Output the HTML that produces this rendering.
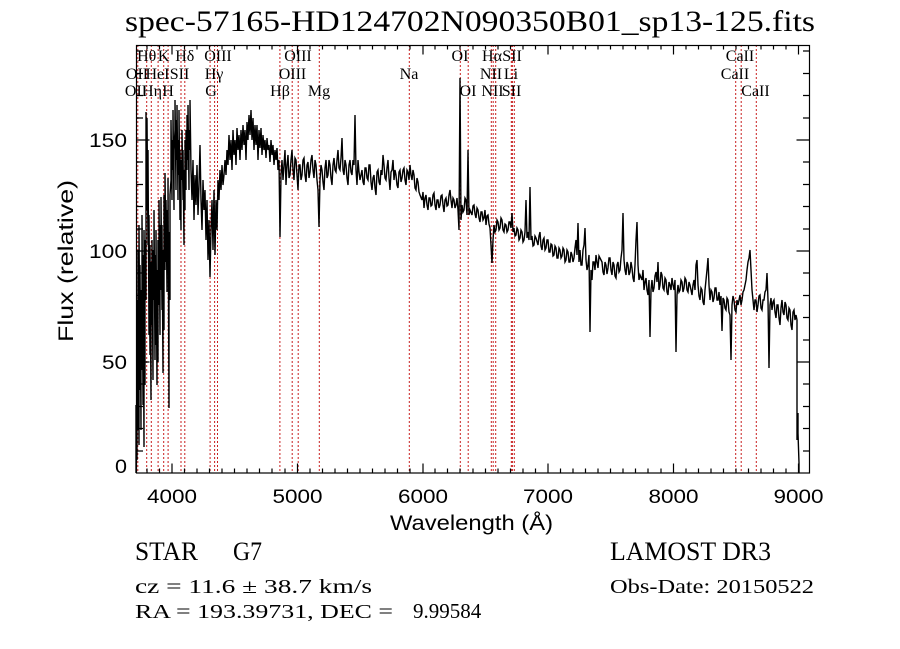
<!DOCTYPE html>
<html>
<head>
<meta charset="utf-8">
<style>
html,body{margin:0;padding:0;background:#fff;}
svg{display:block;}
.serif{font-family:"Liberation Serif",serif;}
.sans{font-family:"Liberation Sans",sans-serif;}
</style>
</head>
<body>
<svg width="900" height="649" viewBox="0 0 900 649" xmlns="http://www.w3.org/2000/svg">
<rect x="0" y="0" width="900" height="649" fill="#fff"/>

<!-- Title -->
<text class="serif" x="125" y="31" font-size="30" textLength="690" lengthAdjust="spacingAndGlyphs" fill="#000">spec-57165-HD124702N090350B01_sp13-125.fits</text>

<!-- Red dotted line markers -->
<g stroke="#c81e1e" stroke-width="1" stroke-dasharray="2,2" fill="none">
<path d="M137.8,45V473 M146.7,45V473 M151.3,45V473 M158.1,45V473 M163.7,45V473 M168.1,45V473 M181,45V473 M184.8,45V473 M210.1,45V473 M214.6,45V473 M217.5,45V473 M279.9,45V473 M292.2,45V473 M298.2,45V473 M319.3,45V473 M409.3,45V473 M460.3,45V473 M468.2,45V473 M491.3,45V473 M493.2,45V473 M495.7,45V473 M511.3,45V473 M512.4,45V473 M514.3,45V473 M735.7,45V473 M741.2,45V473 M756.3,45V473"/>
</g>

<!-- Line labels -->
<g class="serif" font-size="16" fill="#000" text-anchor="middle">
<text x="146.7" y="61">Hθ</text>
<text x="163.7" y="61">K</text>
<text x="184.8" y="61">Hδ</text>
<text x="218" y="61">OIII</text>
<text x="298" y="61">OIII</text>
<text x="460" y="61">OI</text>
<text x="492" y="61">Hα</text>
<text x="512" y="61">SII</text>
<text x="740" y="61">CaII</text>

<text x="137" y="79">OII</text>
<text x="157.5" y="79">HeI</text>
<text x="179.5" y="79">SII</text>
<text x="214" y="79">Hγ</text>
<text x="292.5" y="79">OIII</text>
<text x="409" y="79">Na</text>
<text x="491" y="79">NII</text>
<text x="511" y="79">Li</text>
<text x="735" y="79">CaII</text>

<text x="136" y="96">OII</text>
<text x="152" y="96">Hη</text>
<text x="168" y="96">H</text>
<text x="211" y="96">G</text>
<text x="280" y="96">Hβ</text>
<text x="319" y="96">Mg</text>
<text x="468" y="96">OI</text>
<text x="492.5" y="96">NII</text>
<text x="511.5" y="96">SII</text>
<text x="755.5" y="96">CaII</text>
</g>

<!-- Spectrum -->
<polyline fill="none" stroke="#000" stroke-width="1.4" stroke-linejoin="miter" points="
136,473 136,405 137,460 137,300 138,430 138,250 139,445 139,225 140,390 140,265 141,430 141,290 142,370 142,215 143,405 143,255 144,447 144,230 145,385 145,240 146,300 146,112 147,210 147,118 148,245 148,150
149,335 149,215 150,355 150,245 151,400 151,262 152,325 152,240 153,380 153,250 154,300 154,210 155,360 155,255 156,345 156,230 157,385 157,270 158,362 158,240 159,305 159,200 160,335 160,225 161,290 161,197 162,310 162,225 163,373 163,250 164,330 164,195 165,270 165,173 166,262 166,200 167,292 167,210 168,255 168,178 169,408 169,232 170,300 170,195
171,180 171,120 172,200 172,140 173,170 173,110 174,210 174,150 175,130 175,100 176,190 176,120 177,160 177,105 178,200 178,140 179,175 179,110 180,220 180,150 181,230 181,160 182,180 182,130 183,200 183,150 184,245 184,170 185,210 185,140 186,190 186,130 187,170 187,115 188,160 188,105 189,190 189,130 190,150 190,100
191,170 192,200 193,160 194,220 195,175 196,205 197,165 198,215 199,185 200,145 201,200 202,230 203,180 204,210 205,190 206,240 207,200 208,260 209,220 210,277 211,230 212,200 213,250 214,190 215,255 216,200 217,230 218,180 219,200 220,170 221,190 222,165 223,185 224,175 225,160 226,175
227,150 228,165 229,135 230,160 231,140 232,170 233,130 234,155 235,140 236,165 237,128 238,150 239,135 240,160 241,130 242,150 243,125 244,145 245,130 246,160 247,122 248,140 249,115 250,135 251,110 252,140 253,118 254,150 255,125 256,145 257,125 258,160 259,130 260,148 261,128 262,155 263,135 264,150 265,140 266,158 267,138 268,150 269,145 270,162 271,140 272,155 273,145 274,165 275,150 276,160 277,148 278,170 279,160 280,237 281,175 282,160 283,180
284,165 285,150 286,185 287,165 288,155 289,178 290,175 291,160 292,150 293,170 294,180 295,158 296,160 297,175 298,190 299,165 300,165 301,180 302,175 303,160 304,158 305,175 306,182 307,165 308,162 309,178 310,172 311,160 312,155 313,170 314,178 315,160 316,165 317,180 318,190 319,227 320,180 321,165 322,170 323,182 324,190 325,168 326,160 327,178 328,175 329,160 330,165 331,178 332,185 333,165 334,158 335,170 336,172 337,160 338,150 339,168 340,170 341,158 342,138 343,170 344,175 345,160 346,165 347,178 348,185 349,165 350,160 351,172 352,175 353,160 354,165 355,115 356,170 357,185 358,160 359,172 360,180
362,170 363,182 364,185 365,168 366,168 367,178 368,180 369,165 370,165 371,182 372,190 373,178 374,175 375,188 376,195 377,172 378,170 379,182 380,185 381,170 382,175 383,155 384,165 385,178 386,180 387,168 388,160 389,178 390,190 391,172 392,170 393,160 394,180 395,170 396,175 397,185 398,188 399,172 400,170 401,182 402,178 403,170 404,168 405,180 406,185 407,170 408,172 409,180 410,165 411,175 412,180 413,170 414,175 415,188 416,190 417,178 418,182 419,192 420,195
422,200 423,192 424,208 425,198 426,195 427,205 428,210 429,198 430,198 431,206 432,205 433,195 434,193 435,205 436,210 437,200 438,200 439,208 440,205 441,196 442,195 443,205 444,212 445,200 446,198 447,206 448,205 449,195 450,190 451,200 452,208 453,198 454,200 455,208 456,205 457,198 458,210 459,230 460,78 461,220 462,205 463,212 464,210 465,198 466,200 467,215 468,150 469,215 470,210
472,215 473,206 474,205 475,214 476,218 477,208 478,210 479,218 480,222 481,212 482,212 483,220 484,218 485,210 486,225 487,216 488,215 489,224 490,228 491,245 492,263 493,240 494,225 495,232 496,230 497,220 498,222 499,230 500,228 501,218 502,220 503,230 504,232 505,224 506,225 507,232 508,230 509,222 510,222 511,228 512,213 513,232 514,228 515,236 516,235 517,228 518,230 519,240 520,238 521,230 522,232 523,242 524,240 525,232 526,200 527,238 528,232 529,240 530,187 531,240 532,236 533,246 534,245 535,236 536,238
538,245 539,236 540,232 541,246 542,250 543,240 544,238 545,250 546,248 547,240 548,240 549,252 550,252 551,244 552,245 553,256 554,255 555,246 556,248 557,258 558,258 559,248 560,250 561,258 562,256 563,248 564,250 565,262 566,260 567,250 568,252 569,262 570,262 571,252 572,255 573,262 574,258 575,248 576,240 577,255 578,223 579,262 580,250 581,265 582,265 583,250 584,245 585,228 586,260 587,270 588,265 589,255 590,332 591,270 592,280 593,262 594,262 595,270 596,255 597,262 598,268 599,256 600,258
602,262 603,272 604,275 605,262 606,265 607,274 608,268 609,258 610,258 611,270 612,275 613,262 614,265 615,276 616,278 617,265 618,262 619,272 620,270 621,258 622,250 623,213 624,260 625,270 626,275 627,262 628,265 629,275 630,272 631,262 632,268 633,278 634,282 635,265 636,240 637,222 638,265 639,280 640,275
642,280 643,270 644,290 645,282 646,278 647,290 648,295 649,280 650,337 651,290 652,280 653,292 654,288 655,276 656,272 657,282 658,262 659,290 660,285 661,272 662,275 663,288 664,290 665,278 666,280 667,292 668,295 669,282 670,285 671,290 672,278 673,285 674,290 675,280 676,352 677,295 678,285 679,292 680,290 681,280 682,282 683,292 684,288 685,278 686,280 687,290 688,292 689,282 690,285
692,295 693,285 694,280 695,290 696,265 697,260 698,285 699,296 700,300 701,288 702,290 703,302 704,305 705,290 706,280 707,270 708,258 709,285 710,300 711,290 712,292 713,302 714,298 715,288 716,288 717,300 718,300 719,292 720,305 721,296 722,331 723,298 724,300 725,308 726,310 727,298 728,300 729,312 730,315 731,360 732,305 733,296 734,300 735,310 736,312 737,300 738,305
740,295 741,305 742,300 743,292 744,290 745,285 746,280 747,270 748,262 749,258 750,250 751,270 752,290 753,300 754,310 755,300 756,300 757,312 758,305 759,296 760,295 761,308 762,310 763,300 764,300 765,292 766,290 767,273 768,300 769,368 770,305 771,298 772,310 773,302 774,300 775,312 776,318 777,305 778,305 779,318 780,325 781,308 782,300 783,312 784,315 785,302 786,305 787,318 788,320 789,308 790,310 791,325 792,330 793,312 794,310 795,320 796,315 797,320 797,440 798,413 798,433 799,463 799,473"/>

<!-- Axes box -->
<rect x="136.5" y="45.5" width="673" height="427.5" fill="none" stroke="#000" stroke-width="1.2"/>

<!-- Ticks -->
<g stroke="#000" stroke-width="1.2" fill="none">
<path d="M147,473v-4.5 M159.5,473v-4.5 M184.5,473v-4.5 M197,473v-4.5 M209.5,473v-4.5 M222,473v-4.5 M234.5,473v-4.5 M247,473v-4.5 M259.5,473v-4.5 M272,473v-4.5 M285,473v-4.5 M310,473v-4.5 M322.5,473v-4.5 M335,473v-4.5 M347.5,473v-4.5 M360,473v-4.5 M372.5,473v-4.5 M385,473v-4.5 M397.5,473v-4.5 M410,473v-4.5 M435,473v-4.5 M447.5,473v-4.5 M460,473v-4.5 M473,473v-4.5 M485.5,473v-4.5 M498,473v-4.5 M510.5,473v-4.5 M523,473v-4.5 M535.5,473v-4.5 M560.5,473v-4.5 M573,473v-4.5 M585.5,473v-4.5 M598,473v-4.5 M610.5,473v-4.5 M623,473v-4.5 M635.5,473v-4.5 M648,473v-4.5 M661,473v-4.5 M686,473v-4.5 M698.5,473v-4.5 M711,473v-4.5 M723.5,473v-4.5 M736,473v-4.5 M748.5,473v-4.5 M761,473v-4.5 M773.5,473v-4.5 M786,473v-4.5"/>
<path d="M172,473v-9.5 M297.5,473v-9.5 M423,473v-9.5 M548,473v-9.5 M673.5,473v-9.5 M798.5,473v-9.5"/>
<path d="M147,45v4.5 M159.5,45v4.5 M184.5,45v4.5 M197,45v4.5 M209.5,45v4.5 M222,45v4.5 M234.5,45v4.5 M247,45v4.5 M259.5,45v4.5 M272,45v4.5 M285,45v4.5 M310,45v4.5 M322.5,45v4.5 M335,45v4.5 M347.5,45v4.5 M360,45v4.5 M372.5,45v4.5 M385,45v4.5 M397.5,45v4.5 M410,45v4.5 M435,45v4.5 M447.5,45v4.5 M460,45v4.5 M473,45v4.5 M485.5,45v4.5 M498,45v4.5 M510.5,45v4.5 M523,45v4.5 M535.5,45v4.5 M560.5,45v4.5 M573,45v4.5 M585.5,45v4.5 M598,45v4.5 M610.5,45v4.5 M623,45v4.5 M635.5,45v4.5 M648,45v4.5 M661,45v4.5 M686,45v4.5 M698.5,45v4.5 M711,45v4.5 M723.5,45v4.5 M736,45v4.5 M748.5,45v4.5 M761,45v4.5 M773.5,45v4.5 M786,45v4.5"/>
<path d="M172,45v9.5 M297.5,45v9.5 M423,45v9.5 M548,45v9.5 M673.5,45v9.5 M798.5,45v9.5"/>
<path d="M136,451h7 M136,428.5h7 M136,406.5h7 M136,384h7 M136,340h7 M136,317.5h7 M136,295.5h7 M136,273h7 M136,229h7 M136,206.5h7 M136,184.5h7 M136,162h7 M136,118h7 M136,95.5h7 M136,73.5h7 M136,51h7"/>
<path d="M136,362h13.5 M136,251h13.5 M136,140h13.5"/>
<path d="M810,451h-7 M810,428.5h-7 M810,406.5h-7 M810,384h-7 M810,340h-7 M810,317.5h-7 M810,295.5h-7 M810,273h-7 M810,229h-7 M810,206.5h-7 M810,184.5h-7 M810,162h-7 M810,118h-7 M810,95.5h-7 M810,73.5h-7 M810,51h-7"/>
<path d="M810,362h-13.5 M810,251h-13.5 M810,140h-13.5"/>
</g>

<!-- X tick labels -->
<g class="sans" font-size="19" fill="#000" text-anchor="middle">
<text x="172" y="503" textLength="50" lengthAdjust="spacingAndGlyphs">4000</text>
<text x="297.5" y="503" textLength="50" lengthAdjust="spacingAndGlyphs">5000</text>
<text x="423" y="503" textLength="50" lengthAdjust="spacingAndGlyphs">6000</text>
<text x="548" y="503" textLength="50" lengthAdjust="spacingAndGlyphs">7000</text>
<text x="673.5" y="503" textLength="50" lengthAdjust="spacingAndGlyphs">8000</text>
<text x="798.5" y="503" textLength="50" lengthAdjust="spacingAndGlyphs">9000</text>
</g>

<!-- Y tick labels -->
<g class="sans" font-size="19" fill="#000">
<text x="115" y="473" textLength="12" lengthAdjust="spacingAndGlyphs">0</text>
<text x="102" y="369" textLength="25" lengthAdjust="spacingAndGlyphs">50</text>
<text x="89" y="258" textLength="38" lengthAdjust="spacingAndGlyphs">100</text>
<text x="89" y="147" textLength="38" lengthAdjust="spacingAndGlyphs">150</text>
</g>

<!-- Axis titles -->
<text class="sans" x="390" y="530" font-size="21" textLength="163" lengthAdjust="spacingAndGlyphs" fill="#000">Wavelength (Å)</text>
<text class="sans" x="0" y="0" font-size="21" textLength="162" lengthAdjust="spacingAndGlyphs" fill="#000" transform="translate(73,342) rotate(-90)">Flux (relative)</text>

<!-- Bottom info -->
<g class="serif" fill="#000">
<text x="135" y="560" font-size="26" textLength="63" lengthAdjust="spacingAndGlyphs">STAR</text>
<text x="233" y="560" font-size="26" textLength="29" lengthAdjust="spacingAndGlyphs">G7</text>
<text x="610" y="560" font-size="26" textLength="161" lengthAdjust="spacingAndGlyphs">LAMOST DR3</text>
<text x="135" y="593" font-size="20" textLength="237" lengthAdjust="spacingAndGlyphs">cz = 11.6 ± 38.7 km/s</text>
<text x="610" y="593" font-size="20" textLength="204" lengthAdjust="spacingAndGlyphs">Obs-Date: 20150522</text>
<text x="135" y="618" font-size="20" textLength="258" lengthAdjust="spacingAndGlyphs">RA = 193.39731, DEC =</text>
<text x="413" y="618" font-size="21">9.99584</text>
</g>
</svg>
</body>
</html>
